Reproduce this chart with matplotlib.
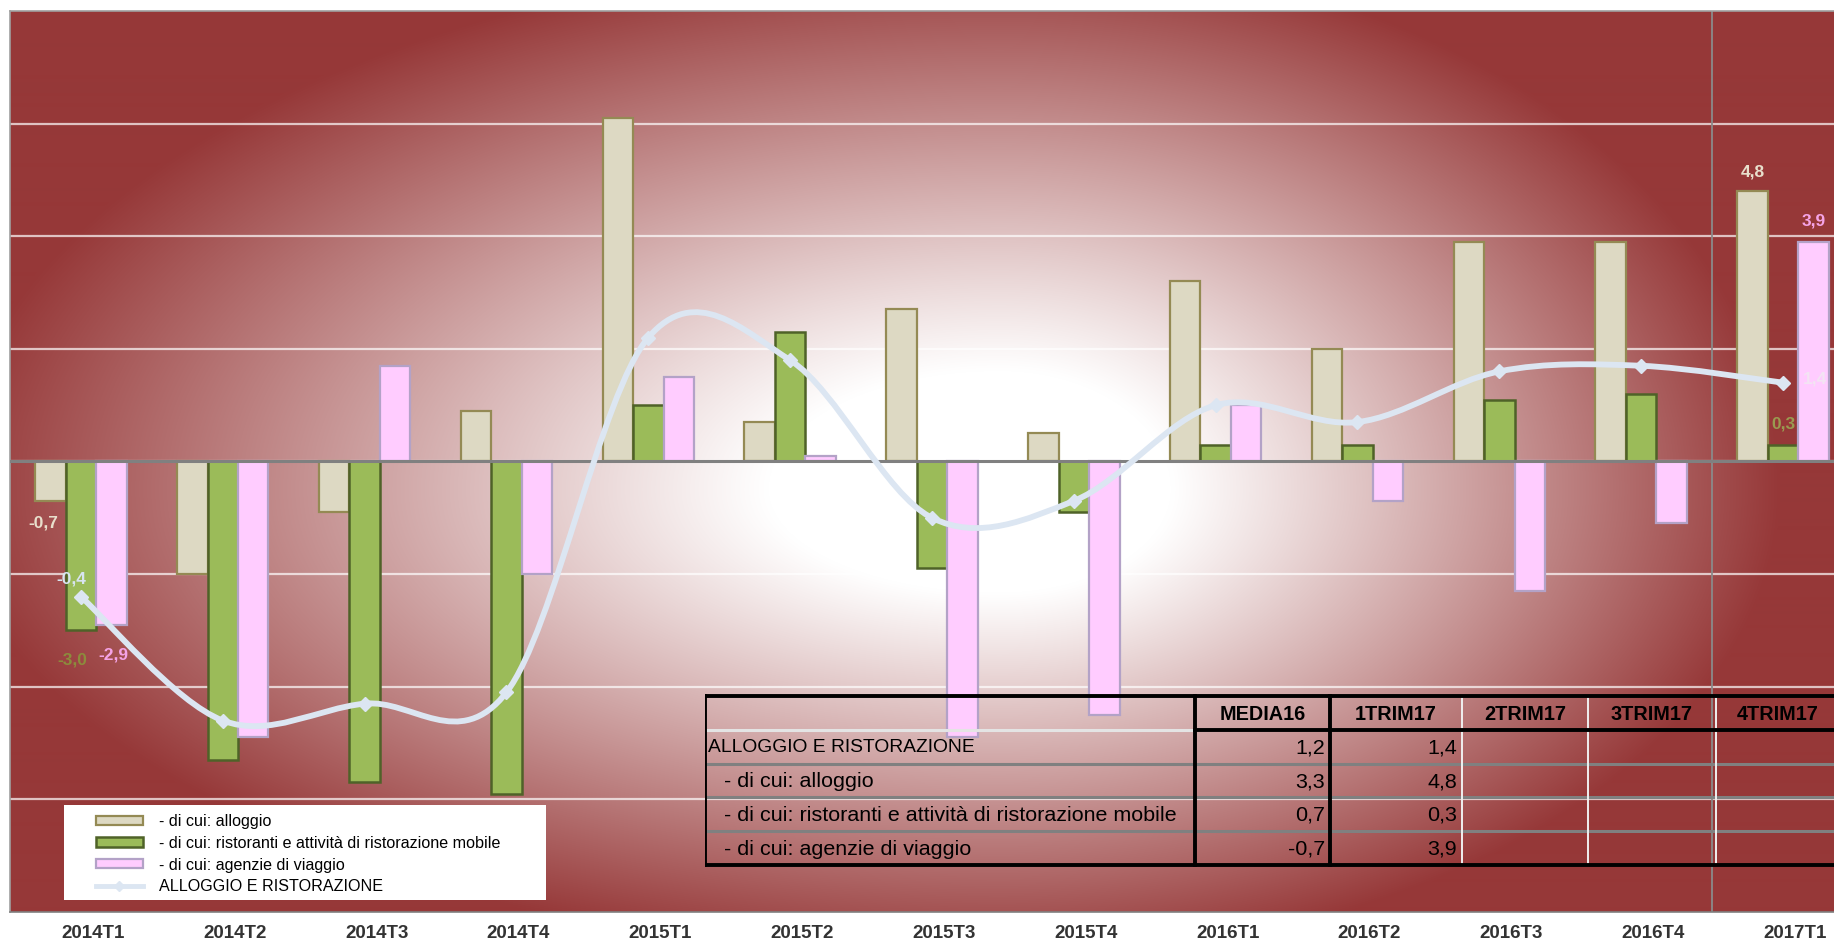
import numpy as np
import matplotlib
matplotlib.use("Agg")
import matplotlib.pyplot as plt
from matplotlib.path import Path
from matplotlib.patches import PathPatch, Rectangle, Patch
from matplotlib.lines import Line2D
from matplotlib import font_manager
import matplotlib.transforms as mtransforms

# ---------------- data ----------------
quarters = ["2014T1", "2014T2", "2014T3", "2014T4", "2015T1", "2015T2", "2015T3",
            "2015T4", "2016T1", "2016T2", "2016T3", "2016T4", "2017T1"]
alloggio = [-0.7, -2.0, -0.9, 0.9, 6.1, 0.7, 2.7, 0.5, 3.2, 2.0, 3.9, 3.9, 4.8]
ristoranti = [-3.0, -5.3, -5.7, -5.9, 1.0, 2.3, -1.9, -0.9, 0.3, 0.3, 1.1, 1.2, 0.3]
agenzie = [-2.9, -4.9, 1.7, -2.0, 1.5, 0.1, -4.9, -4.5, 1.0, -0.7, -2.3, -1.1, 3.9]
totale = [-2.4, -4.6, -4.3, -4.1, 2.2, 1.8, -1.0, -0.7, 1.0, 0.7, 1.6, 1.7, 1.4]

series_names = ["- di cui: alloggio",
                "- di cui: ristoranti e attività di ristorazione mobile",
                "- di cui: agenzie di viaggio",
                "ALLOGGIO E RISTORAZIONE"]
first_labels = ["-0,7", "-3,0", "-2,9", "-0,4"]
last_labels = ["4,8", "0,3", "3,9", "1,4"]

table_cols = ["MEDIA16", "1TRIM17", "2TRIM17", "3TRIM17", "4TRIM17"]
table_rows = ["ALLOGGIO E RISTORAZIONE", "  - di cui: alloggio",
              "  - di cui: ristoranti e attività di ristorazione mobile",
              "  - di cui: agenzie di viaggio"]
media16 = ["1,2", "3,3", "0,7", "-0,7"]
trim1_17 = ["1,4", "4,8", "0,3", "3,9"]

# ---------------- styles ----------------
C_ALL, E_ALL = "#ddd9c3", "#948a54"
C_RIS, E_RIS = "#9bbb59", "#4f6228"
C_AGE, E_AGE = "#ffccff", "#b3a2c7"
C_LINE = "#dce6f2"

avail = {f.name for f in font_manager.fontManager.ttflist}
NARROW = "Liberation Sans Narrow" if "Liberation Sans Narrow" in avail else "Liberation Sans"
SANS = "Liberation Sans" if "Liberation Sans" in avail else "DejaVu Sans"

W, H = 1834, 938
DPI = 100
fig = plt.figure(figsize=(W / DPI, H / DPI), dpi=DPI)
fig.patch.set_facecolor("white")

AX_L, AX_R, AX_T, AX_B = 10, 1834, 11, 912
ax = fig.add_axes([AX_L / W, 1 - AX_B / H, (AX_R - AX_L) / W, (AX_B - AX_T) / H])

# background radial gradient
xs = np.arange(AX_L, AX_R) + 0.5
ys = np.arange(AX_T, AX_B) + 0.5
X, Y = np.meshgrid(xs, ys)
cx, cy = 1000.0, 490.0
rx = np.where(X < cx, 1050.0, 780.0)
ry = np.where(Y < cy, 540.0, 470.0)
d = np.sqrt(((X - cx) / rx) ** 2 + ((Y - cy) / ry) ** 2)
f = np.clip((d - 0.22) / 0.78, 0, 1) ** 1.05
dark = np.array([150, 56, 56]) / 255.0
img = (1 - f)[..., None] * np.ones(3) + f[..., None] * dark
ax.imshow(img, extent=[0, 1, 0, 1], transform=ax.transAxes, aspect="auto",
          zorder=0, interpolation="bilinear")

x = np.arange(len(quarters))
w = 0.215
ax.bar(x - w, alloggio, w, color=C_ALL, edgecolor=E_ALL, linewidth=1.6, zorder=3)
ax.bar(x, ristoranti, w, color=C_RIS, edgecolor=E_RIS, linewidth=1.8, zorder=3)
ax.bar(x + w, agenzie, w, color=C_AGE, edgecolor=E_AGE, linewidth=1.6, zorder=3)

# smoothed line (Catmull-Rom style bezier like Excel smoothing)
pts = np.column_stack([x, totale]).astype(float)
n = len(pts)
verts = [pts[0]]
codes = [Path.MOVETO]
for i in range(n - 1):
    p0 = pts[i - 1] if i > 0 else pts[i]
    p1 = pts[i]
    p2 = pts[i + 1]
    p3 = pts[i + 2] if i + 2 < n else pts[i + 1]
    verts += [p1 + (p2 - p0) / 6.0, p2 - (p3 - p1) / 6.0, p2]
    codes += [Path.CURVE4] * 3
ax.add_patch(PathPatch(Path(verts, codes), facecolor="none", edgecolor=C_LINE,
                       lw=4.2, zorder=5, capstyle="round", joinstyle="round"))
ax.plot(x, totale, linestyle="none", marker="D", ms=7, color=C_LINE, zorder=6)

ax.axhline(0, color="#808080", lw=2.2, zorder=4)
ax.axvline(11.5, color="#8a8a8a", lw=1.3, zorder=2)

ax.set_xlim(-0.5, 12.36)
ax.set_ylim(-8, 8)
ax.set_yticks(np.arange(-6, 7, 2))
ax.tick_params(axis="y", length=0, labelleft=False)
ax.grid(axis="y", color="white", alpha=0.7, lw=1.6, zorder=1)
ax.set_axisbelow(True)

ax.set_xticks(x, quarters)
ax.tick_params(axis="x", length=0, pad=9, labelsize=13.5, labelcolor="#333333")
offset = mtransforms.ScaledTranslation(12 / DPI, 0, fig.dpi_scale_trans)
for lab in ax.get_xticklabels():
    lab.set_fontfamily(SANS)
    lab.set_fontweight("bold")
    lab.set_transform(lab.get_transform() + offset)

for side in ["left", "top"]:
    ax.spines[side].set_color("#a0a0a0")
    ax.spines[side].set_linewidth(1.2)
ax.spines["bottom"].set_color("#808080")
ax.spines["bottom"].set_linewidth(1.2)
ax.spines["right"].set_visible(False)

# data labels
def pt(px):
    return px * 72.0 / DPI

lab_kw = dict(textcoords="offset points", ha="center", va="center",
              fontsize=12.5, fontweight="bold", family=SANS, zorder=7)
ax.annotate(first_labels[0], (x[0] - w, alloggio[0]), xytext=(pt(-7), pt(-22)), color="#e8dfcc", **lab_kw)
ax.annotate(first_labels[1], (x[0], ristoranti[0]), xytext=(pt(-9), pt(-30)), color="#8c8c3c", **lab_kw)
ax.annotate(first_labels[2], (x[0] + w, agenzie[0]), xytext=(pt(2), pt(-30)), color="#f5a3e6", **lab_kw)
ax.annotate(first_labels[3], (x[0], totale[0]), xytext=(pt(-10), pt(18)), color="#d8e4f0", **lab_kw)
ax.annotate(last_labels[0], (x[-1] - w, alloggio[-1]), xytext=(0, pt(19)), color="#e8dfcc", **lab_kw)
ax.annotate(last_labels[1], (x[-1], ristoranti[-1]), xytext=(0, pt(21)), color="#9a9a50", **lab_kw)
ax.annotate(last_labels[2], (x[-1] + w, agenzie[-1]), xytext=(0, pt(21)), color="#f5a3e6", **lab_kw)
ax.annotate(last_labels[3], (x[-1], totale[-1]), xytext=(pt(32), pt(4)), color="#f3e3f3", **lab_kw)

# legend (white box + frameless legend)
fig.patches.append(Rectangle((64 / W, 1 - 900 / H), (546 - 64) / W, (900 - 805) / H,
                             transform=fig.transFigure, facecolor="white",
                             edgecolor="none", zorder=8))
handles = [Patch(facecolor=C_ALL, edgecolor=E_ALL, lw=1.6),
           Patch(facecolor=C_RIS, edgecolor=E_RIS, lw=1.8),
           Patch(facecolor=C_AGE, edgecolor=E_AGE, lw=1.6),
           Line2D([], [], color=C_LINE, lw=3.5, marker="D", ms=5)]
leg = fig.legend(handles, series_names, loc="upper left",
                 bbox_to_anchor=(96 / W, 1 - 814 / H), frameon=False,
                 prop={"family": SANS, "size": 11.6}, handlelength=2.9,
                 handleheight=0.5, handletextpad=1.0, labelspacing=0.42,
                 borderpad=0.0, borderaxespad=0.0)
leg.set_zorder(9)

# ---------------- table ----------------
TL, TR, TT, TB = 705, 1840, 696, 865
tax = fig.add_axes([TL / W, 1 - (TB + 4) / H, (TR - TL) / W, (TB + 4 - TT + 4) / H])
tax.set_xlim(TL, TR)
tax.set_ylim(TB + 4, TT - 4)
tax.axis("off")
tax.patch.set_alpha(0)

col_edges = [705, 1195, 1330, 1462, 1588, 1716, 1840]
row_edges = [696, 730, 764, 797, 831, 865]

# light / grey lines
tax.plot([TL, col_edges[1]], [row_edges[1]] * 2, color="#e4e4e4", lw=2.2)
for yy in row_edges[2:5]:
    tax.plot([TL, TR], [yy, yy], color="#808080", lw=2.2)
for xx in col_edges[3:6]:
    tax.plot([xx, xx], [TT, TB], color="#f0f0f0", lw=1.4)
# black lines
blk = dict(color="black", lw=2.8, solid_capstyle="projecting")
tax.plot([TL, TR], [TT, TT], **blk)
tax.plot([TL, TR], [TB, TB], **blk)
tax.plot([TL, TL], [TT, TB], **blk)
tax.plot([col_edges[1], col_edges[1]], [TT, TB], **blk)
tax.plot([col_edges[2], col_edges[2]], [TT, TB], **blk)
tax.plot([col_edges[1], TR], [row_edges[1], row_edges[1]], **blk)

# font size fit
probe = tax.text(0, 0, table_rows[2].strip(), family=NARROW, fontsize=14)
fig.canvas.draw()
wpx = probe.get_window_extent().width
probe.remove()
tfs = min(14 * 455.0 / wpx, 15.5)

for j, name in enumerate(table_cols):
    cxm = (col_edges[j + 1] + col_edges[j + 2]) / 2
    tax.text(cxm, (row_edges[0] + row_edges[1]) / 2 + 1, name, ha="center", va="center",
             family=NARROW, fontsize=tfs * 0.93, fontweight="bold", color="black")
for i, name in enumerate(table_rows):
    yc = (row_edges[i + 1] + row_edges[i + 2]) / 2 + 1
    xl = 708 if i == 0 else 712
    fs = tfs * 0.9 if i == 0 else tfs
    tax.text(xl, yc, name, ha="left", va="center", family=NARROW, fontsize=fs,
             color="black")
    tax.text(col_edges[2] - 5, yc, media16[i], ha="right", va="center",
             family=NARROW, fontsize=tfs, color="black")
    tax.text(col_edges[3] - 5, yc, trim1_17[i], ha="right", va="center",
             family=NARROW, fontsize=tfs, color="black")

fig.savefig("out.png", dpi=DPI)
